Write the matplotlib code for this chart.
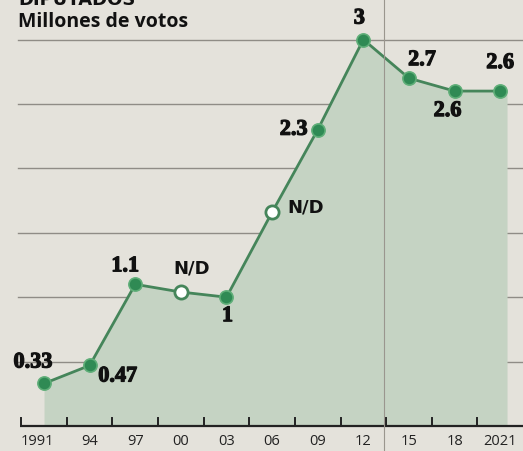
import matplotlib
matplotlib.use("Agg")
import matplotlib.pyplot as plt
import matplotlib.patheffects as pe
from matplotlib.lines import Line2D
import numpy as np

years = ["1991", "94", "97", "00", "03", "06", "09", "12", "15", "18", "2021"]
values = [0.33, 0.47, 1.1, 1.04, 1.0, 1.66, 2.3, 3.0, 2.7, 2.6, 2.6]
available = [True, True, True, False, True, False, True, True, True, True, True]
labels = ["0.33", "0.47", "1.1", "N/D", "1", "N/D", "2.3", "3", "2.7", "2.6", "2.6"]
gridvals = [0.5, 1.0, 1.5, 2.0, 2.5, 3.0]

# label offsets in pixels (dx, dy) relative to the point
offsets = [(-11, 21), (28, -11), (-10, 18), (11, 24), (1, -19), (34, 5),
           (-24, 0), (-4, 21), (13, 18), (-7, -20), (0, 28)]

bg = "#e4e2db"
fill_c = "#c5d3c3"
line_c = "#45855a"
dot_c = "#2f8a54"

fig = plt.figure(figsize=(5.23, 4.51), dpi=100, facecolor=bg)
ax = fig.add_axes([0, 0, 1, 1])
ax.set_facecolor(bg)
ax.set_xlim(-0.965, 10.5)
ax.set_ylim(-0.194, 3.307)
ax.axis("off")

x = np.arange(len(years))
v = np.array(values)

# grid lines
for g in gridvals:
    ax.plot([-0.57, 10.6], [g, g], color="#8f8c86", lw=1.0, zorder=1)

# fill
ax.fill_between(np.append(x, x[-1] + 0.15), 0, np.append(v, v[-1]),
                color=fill_c, zorder=2, lw=0)

# vertical fold/gutter line
fig.add_artist(Line2D([384 / 523, 384 / 523], [0, 1], color="#9a968e", lw=0.8, zorder=3))

# baseline and ticks
ax.plot([-0.52, 10.6], [0, 0], color="#222222", lw=1.6, zorder=4, solid_capstyle="butt")
for t in np.arange(-0.5, 10.0, 1.0):
    ax.plot([t, t], [0, 0.065], color="#222222", lw=1.4, zorder=4)
for i, yl in enumerate(years):
    dxl = -4.5 if i == 0 else 0
    ax.annotate(yl, (i, -0.12), xytext=(dxl, 0), textcoords="offset points",
                ha="center", va="center", fontsize=10.5,
                family="Open Sans", color="#222222", zorder=5)

# line
ax.plot(x, v, color=line_c, lw=2.0, zorder=5)
for i in range(len(x)):
    if available[i]:
        ax.plot(x[i], v[i], "o", ms=9.5, mfc=dot_c, mec="#5fae78", mew=1.2, zorder=6)
    else:
        ax.plot(x[i], v[i], "o", ms=9.5, mfc="white", mec=line_c, mew=2.0, zorder=6)

# value labels
for i, lab in enumerate(labels):
    dx, dy = offsets[i]
    if lab == "N/D":
        kw = dict(family="DejaVu Sans", fontsize=13, fontweight="bold")
    else:
        kw = dict(family="Liberation Serif", fontsize=16, fontweight="bold",
                  path_effects=[pe.withStroke(linewidth=0.9, foreground="#111111")])
    ax.annotate(lab, (x[i], v[i]), xytext=(dx * 0.72, dy * 0.72), textcoords="offset points",
                ha="center", va="center", color="#111111", zorder=7, **kw)

# titles
fig.text(18 / 523, 1 - 5 / 451, "DIPUTADOS", ha="left", va="baseline",
         fontsize=13, fontweight="bold", family="DejaVu Sans", color="#111111")
fig.text(18 / 523, 1 - 22 / 451, "Millones de votos", ha="left", va="center",
         fontsize=14, fontweight="bold", family="Open Sans", color="#111111")

fig.savefig("out.png", dpi=100, facecolor=bg)
